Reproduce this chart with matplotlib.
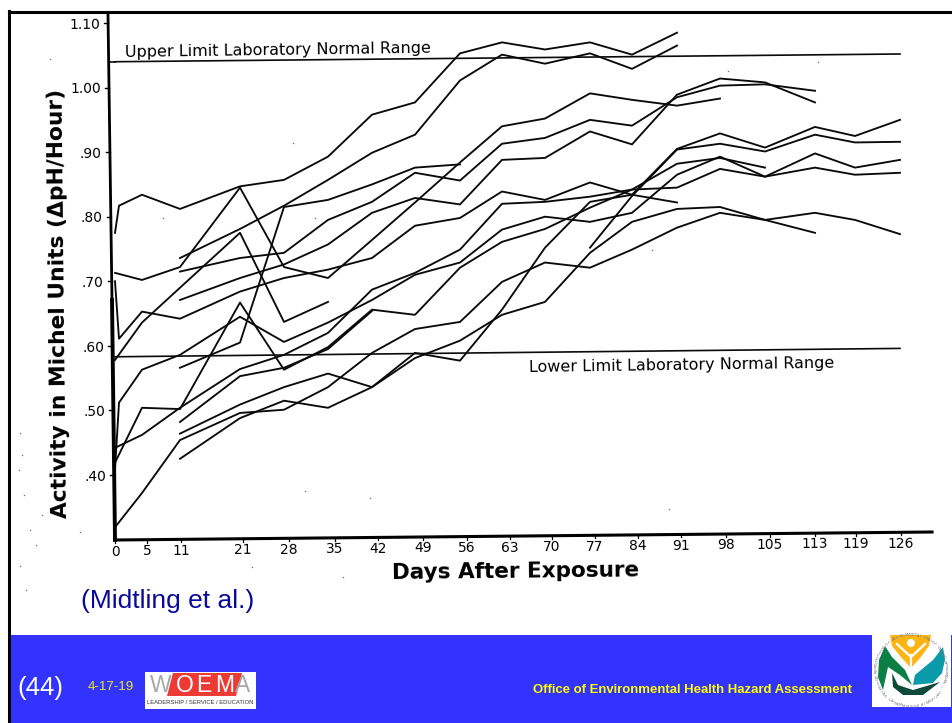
import matplotlib
matplotlib.use("Agg")
import matplotlib.pyplot as plt
import numpy as np
from matplotlib.lines import Line2D
from matplotlib.patches import Circle, Polygon, Rectangle
from matplotlib.transforms import Affine2D

W, H = 952, 723

# tick labels
tick_days = [0, 5, 11, 21, 28, 35, 42, 49, 56, 63, 70, 77, 84, 91, 98, 105, 113, 119, 126]
y_ticks = [0.40, 0.50, 0.60, 0.70, 0.80, 0.90, 1.00, 1.10]
y_labels = [".40", ".50", ".60", ".70", ".80", ".90", "1.00", "1.10"]

# limits of the laboratory normal range
limit_days = [0, 126]
upper_limit = [1.040, 1.052]
lower_limit = [0.583, 0.596]

# individual subjects
days_a = [0, 1, 5, 11, 21, 28, 35, 42, 49, 56, 63, 70, 77, 84, 91]
vals_a = [0.775, 0.817, 0.834, 0.812, 0.847, 0.857, 0.893, 0.958, 0.977, 1.053, 1.070, 1.059, 1.070, 1.051, 1.085]
days_b = [11, 21, 28, 35, 42, 49, 56, 63, 70, 77, 84, 91]
vals_b = [0.736, 0.781, 0.817, 0.857, 0.899, 0.927, 1.011, 1.051, 1.037, 1.053, 1.029, 1.065]
days_c = [0, 5, 11, 21, 28, 35]
vals_c = [0.578, 0.636, 0.690, 0.775, 0.637, 0.668]
days_d = [11, 21, 28, 35, 42, 49, 56, 63, 70, 77, 84, 91, 98, 105, 113]
vals_d = [0.715, 0.736, 0.744, 0.795, 0.823, 0.868, 0.856, 0.913, 0.922, 0.950, 0.941, 0.985, 1.003, 1.005, 0.995]
days_e = [11, 21, 28, 35, 42, 49, 56]
vals_e = [0.566, 0.605, 0.815, 0.826, 0.850, 0.876, 0.881]
days_f = [0, 5, 11, 21, 28, 35, 42, 49, 56, 63, 70, 77, 84, 91, 98, 105, 113, 119, 126]
vals_f = [0.419, 0.504, 0.502, 0.667, 0.563, 0.598, 0.656, 0.648, 0.721, 0.761, 0.781, 0.814, 0.842, 0.845, 0.874, 0.862, 0.876, 0.865, 0.868]
days_h = [0, 5, 11, 21, 28, 35, 42, 49, 56, 63, 70, 77, 84, 91, 98]
vals_h = [0.713, 0.702, 0.722, 0.845, 0.722, 0.705, 0.764, 0.822, 0.884, 0.940, 0.952, 0.991, 0.981, 0.972, 0.983]
days_i = [0, 1, 5, 11, 21, 28, 35, 42, 49, 56, 63, 70, 77, 84, 91]
vals_i = [0.700, 0.611, 0.653, 0.642, 0.684, 0.705, 0.718, 0.736, 0.786, 0.798, 0.839, 0.826, 0.853, 0.834, 0.822]
days_j = [11, 21, 28, 35, 42, 49, 56, 63, 70, 77, 84, 91, 98, 105, 113]
vals_j = [0.671, 0.705, 0.726, 0.757, 0.806, 0.829, 0.819, 0.888, 0.891, 0.932, 0.912, 0.989, 1.014, 1.008, 0.977]
days_l = [0, 5, 11, 21, 28, 35, 42, 49, 56, 63, 70, 77, 84, 91, 98, 105]
vals_l = [0.442, 0.462, 0.504, 0.564, 0.586, 0.620, 0.687, 0.713, 0.749, 0.820, 0.823, 0.831, 0.842, 0.882, 0.891, 0.876]
days_m = [0, 1, 5, 11, 21, 28, 35, 42, 49, 56, 63, 70, 77, 84, 91, 98, 105, 113, 119, 126]
vals_m = [0.408, 0.512, 0.563, 0.586, 0.645, 0.606, 0.636, 0.671, 0.710, 0.729, 0.780, 0.800, 0.792, 0.806, 0.865, 0.893, 0.862, 0.898, 0.876, 0.888]
days_p = [11, 21, 28, 35, 42, 49, 56, 63, 70, 77, 84, 91, 98, 105, 113, 119, 126]
vals_p = [0.425, 0.488, 0.515, 0.504, 0.536, 0.589, 0.577, 0.656, 0.752, 0.823, 0.834, 0.905, 0.929, 0.907, 0.939, 0.925, 0.950]
days_q = [0, 5, 11, 21, 28, 35, 42, 49, 56, 63, 70, 77, 84, 91, 98, 105, 113]
vals_q = [0.319, 0.372, 0.454, 0.496, 0.501, 0.536, 0.589, 0.626, 0.637, 0.699, 0.729, 0.721, 0.749, 0.783, 0.806, 0.795, 0.775]
days_s = [11, 21, 28, 35, 42, 49, 56, 63, 70, 77, 84, 91, 98, 105, 113, 119, 126]
vals_s = [0.464, 0.509, 0.536, 0.557, 0.536, 0.581, 0.608, 0.648, 0.668, 0.744, 0.792, 0.812, 0.815, 0.795, 0.806, 0.795, 0.773]
days_u = [77, 84, 91, 98, 105, 113, 119, 126]
vals_u = [0.752, 0.832, 0.904, 0.913, 0.901, 0.927, 0.915, 0.916]
days_x = [11, 21, 28, 35, 42]
vals_x = [0.482, 0.553, 0.566, 0.595, 0.654]

series = [
    (days_a, vals_a), (days_b, vals_b), (days_c, vals_c), (days_d, vals_d),
    (days_e, vals_e), (days_f, vals_f), (days_h, vals_h), (days_i, vals_i),
    (days_j, vals_j), (days_l, vals_l), (days_m, vals_m), (days_p, vals_p),
    (days_q, vals_q), (days_s, vals_s), (days_u, vals_u), (days_x, vals_x),
]

# the hand-drawn day axis is not quite even, so days go through this to pixels
scale_days = [0, 1, 5, 11, 21, 28, 35, 42, 49, 56, 63, 70, 77, 84, 91, 98, 105, 113, 119, 126]
scale_px = [115, 119, 142, 180, 240, 284, 328, 372, 415, 460, 502, 545, 590, 632, 677, 720, 765, 815, 855, 900]
label_px = [115, 147, 181, 243, 289, 335, 378, 423, 467, 510, 552, 595, 638, 681, 726, 770, 815, 856, 901]

# specks of dirt on the scan
speck_x = [50, 163, 293, 315, 728, 818, 652, 305, 370, 252, 343, 669, 80, 20, 22, 19, 24, 30, 36, 20, 26, 42]
speck_y = [59, 218, 143, 218, 71, 62, 250, 491, 498, 567, 577, 509, 532, 433, 455, 470, 495, 530, 545, 566, 590, 515]

fig = plt.figure(figsize=(W / 100, H / 100), dpi=100, facecolor="white")
plt.rcParams["font.family"] = "DejaVu Sans"

# pixel coordinates, y going down, for everything that is not data
px = Affine2D().scale(1, -1).translate(0, H)

# the scan sits about 0.6 degrees off
TILT = 0.6


def to_px(d):
    return np.interp(d, scale_days, scale_px)


def from_px(p):
    return np.interp(p, scale_px, scale_days)


top_px, bottom_px = 23.0, 539.5
ax = fig.add_axes([115 / W, 1 - bottom_px / H, (900 - 115) / W, (bottom_px - top_px) / H])
ax.patch.set_visible(False)
ax.set_xscale("function", functions=(to_px, from_px))
ax.set_xlim(0, 126)
ax.set_ylim(0.30, 1.10)
for side in ax.spines:
    ax.spines[side].set_visible(False)

for days, vals in series:
    ax.plot(days, vals, color="#0a0a0a", lw=1.35, solid_joinstyle="round", clip_on=False)
ax.plot(limit_days, upper_limit, color="#0a0a0a", lw=1.2, clip_on=False)
ax.plot(limit_days, lower_limit, color="#0a0a0a", lw=1.2, clip_on=False)

ax.set_yticks(y_ticks, y_labels, fontsize=10)
ax.set_xticks(tick_days, [str(d) for d in tick_days], fontsize=10)
ax.tick_params(axis="both", length=0, pad=0)
ax.minorticks_off()

for lbl, v in zip(ax.get_yticklabels(), y_ticks):
    shift = -8 - 7 * (v - 0.30) / 0.80
    lbl.set_transform(lbl.get_transform() + Affine2D().translate(shift, 0))
    lbl.set_rotation(TILT)
for lbl, d, p in zip(ax.get_xticklabels(), tick_days, label_px):
    rise = -5 + (p - 115) * 0.0105
    lbl.set_transform(lbl.get_transform() + Affine2D().translate(p - to_px(d), rise))
    lbl.set_rotation(TILT)

ax.set_xlabel("Days After Exposure", fontsize=15.5, fontweight="bold", rotation=TILT)
ax.xaxis.set_label_coords(516, 572, transform=px)
ax.xaxis.label.set_va("center")
ax.set_ylabel("Activity in Michel Units (\u0394pH/Hour)", fontsize=15.7, fontweight="bold",
              rotation=90 + TILT, va="center", ha="center")
ax.yaxis.set_label_coords(59, 303, transform=px)

fig.text(278, 50, "Upper Limit Laboratory Normal Range", transform=px, fontsize=11.5,
         ha="center", va="center", rotation=0.8)
fig.text(682, 365, "Lower Limit Laboratory Normal Range", transform=px, fontsize=11.5,
         ha="center", va="center", rotation=0.8)

# axis lines of the scan
fig.add_artist(Line2D([108, 112], [15, 300], transform=px, color="black", lw=2.0))
fig.add_artist(Line2D([112, 115], [300, 540], transform=px, color="black", lw=2.8))
fig.add_artist(Line2D([115, 932], [540, 532], transform=px, color="black", lw=2.2))
fig.add_artist(Line2D([109, 115], [61.7, 61.7], transform=px, color="#0a0a0a", lw=1.2))
for v in y_ticks:
    y = top_px + (1.10 - v) / 0.80 * (bottom_px - top_px)
    x = 115 - 7 * (v - 0.30) / 0.80
    fig.add_artist(Line2D([x - 4, x], [y, y], transform=px, color="black", lw=1.0))
for p in label_px:
    y = 540 - (p - 115) * 0.0098
    fig.add_artist(Line2D([p, p], [y, y + 3], transform=px, color="black", lw=0.9))
fig.add_artist(Line2D(speck_x, speck_y, transform=px, color="#666666", ls="none", marker="o", ms=1.0, mew=0))

fig.text(81, 601, "(Midtling et al.)", transform=px, color="#0a0a9a", fontsize=19,
         family="Liberation Sans", va="center", ha="left")

# slide footer
fig.add_artist(Rectangle((10, 635), W - 10, H - 635, transform=px, facecolor="#3333ff", edgecolor="none"))
fig.add_artist(Line2D([8.5, W], [11.5, 11.5], transform=px, color="black", lw=2.2))
fig.add_artist(Line2D([8.5, 8.5], [11, H], transform=px, color="black", lw=2.2))
fig.text(17, 688, "(44)", transform=px, color="white", fontsize=18.5, family="Liberation Sans", va="center")
fig.text(88, 687, "4-17-19", transform=px, color="#e8e820", fontsize=9.6, family="Liberation Sans", va="center")
fig.text(533, 690, "Office of Environmental Health Hazard Assessment", transform=px, color="#ffff00",
         fontsize=9.45, fontweight="bold", family="Liberation Sans", va="center")

# WOEMA logo
fig.add_artist(Rectangle((145, 672), 111, 37, transform=px, facecolor="white", edgecolor="none", zorder=3))
fig.add_artist(Polygon([(173, 673), (242, 673), (236, 696), (167, 696)], transform=px,
                       facecolor="#ee3a35", edgecolor="none", zorder=3))
for ch, x, col in [("W", 161, "#a8a8a8"), ("O", 185, "white"), ("E", 204, "white"),
                   ("M", 225, "white"), ("A", 243, "#a8a8a8")]:
    fig.text(x, 685, ch, transform=px, color=col, fontsize=16.5, family="Liberation Sans",
             ha="center", va="center", zorder=4)
fig.text(200.5, 703, "LEADERSHIP / SERVICE / EDUCATION", transform=px, color="#333333", fontsize=4.2,
         family="Liberation Sans", ha="center", va="center", zorder=4)

# OEHHA seal
fig.add_artist(Rectangle((872, 635), 79, 72, transform=px, facecolor="white", edgecolor="none", zorder=3))
seal = [
    ("#fdb515", [(890, 635), (931, 635), (929, 646), (921, 657), (911, 668), (901, 657), (892, 646)]),
    ("#0b7f45", [(885, 646), (879, 660), (878, 677), (883, 690), (888, 667), (900, 675), (912, 685), (905, 670), (892, 657)]),
    ("#0b9aaa", [(943, 647), (933, 660), (915, 675), (913, 685), (933, 683), (942, 673), (945, 660)]),
    ("#0e4a38", [(892, 673), (898, 685), (913, 690), (940, 682), (923, 695), (903, 695), (893, 687)]),
]
for col, pts in seal:
    fig.add_artist(Polygon(pts, transform=px, facecolor=col, edgecolor="none", zorder=4))
fig.add_artist(Circle((911, 643), 4, transform=px, facecolor="white", edgecolor="none", zorder=5))
fig.add_artist(Line2D([897, 911, 925], [644, 657, 644], transform=px, color="white", lw=1.6, zorder=5))
fig.add_artist(Line2D([911, 911], [655, 668], transform=px, color="white", lw=1.6, zorder=5))
seal_text = "OFFICE OF ENVIRONMENTAL HEALTH HAZARD ASSESSMENT * CALIFORNIA ENVIRONMENTAL PROTECTION AGENCY"
for i, ch in enumerate(seal_text):
    ang = np.deg2rad(-70 + i * 360 / len(seal_text))
    fig.text(911 + 36 * np.sin(ang), 671 - 36 * np.cos(ang), ch, transform=px,
             color="#777777", fontsize=2.4, ha="center", va="center", zorder=5)

fig.savefig("out.png", dpi=100)
